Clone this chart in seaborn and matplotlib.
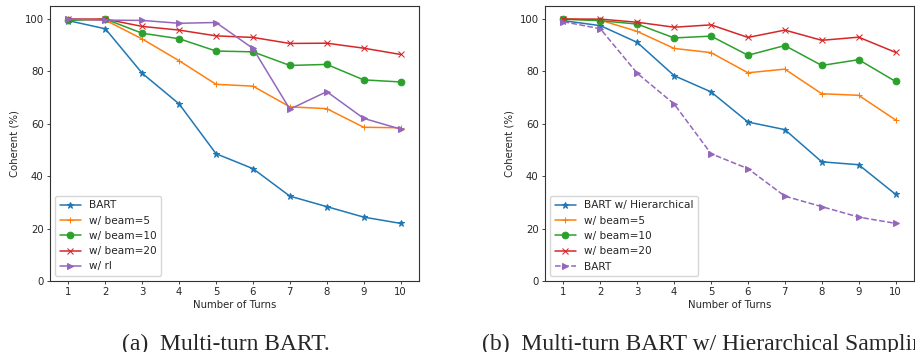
import numpy as np
import pandas as pd
import seaborn as sns
import matplotlib.pyplot as plt

# ---------------------------------------------------------
# DATA
# ---------------------------------------------------------
turns = [1, 2, 3, 4, 5, 6, 7, 8, 9, 10]

# (a) Multi-turn BART
a_bart = [99.4, 96.3, 79.3, 67.6, 48.6, 42.9, 32.4, 28.4, 24.4, 22.0]
a_beam5 = [100.0, 99.6, 92.4, 84.1, 75.1, 74.4, 66.5, 65.8, 58.7, 58.5]
a_beam10 = [99.5, 100.0, 94.6, 92.5, 87.8, 87.5, 82.3, 82.7, 76.8, 76.0]
a_beam20 = [100.0, 100.0, 97.2, 95.8, 93.6, 93.0, 90.7, 90.8, 88.9, 86.5]
a_rl = [100.0, 99.6, 99.5, 98.4, 98.7, 88.8, 65.6, 72.3, 62.1, 58.0]

# (b) Multi-turn BART w/ Hierarchical Sampling
b_hier = [99.4, 97.5, 91.1, 78.4, 72.2, 60.7, 57.8, 45.5, 44.4, 33.1]
b_beam5 = [100.0, 99.6, 95.3, 88.8, 87.2, 79.5, 80.9, 71.5, 70.9, 61.5]
b_beam10 = [100.0, 99.4, 98.1, 92.8, 93.5, 86.2, 89.9, 82.3, 84.5, 76.2]
b_beam20 = [100.0, 100.0, 98.8, 96.9, 97.8, 93.0, 95.8, 91.9, 93.1, 87.3]
b_bart = [99.0, 96.3, 79.3, 67.6, 48.6, 42.9, 32.4, 28.4, 24.4, 22.0]

labels_a = ['BART', 'w/ beam=5', 'w/ beam=10', 'w/ beam=20', 'w/ rl']
labels_b = ['BART w/ Hierarchical', 'w/ beam=5', 'w/ beam=10', 'w/ beam=20', 'BART']

# ---------------------------------------------------------
# STYLE
# ---------------------------------------------------------
sns.set_style('ticks')
plt.rcParams['font.family'] = ['DejaVu Sans']
plt.rcParams['font.size'] = 7.3

colors = sns.color_palette('tab10')
blue, orange, green, red, purple = colors[0], colors[1], colors[2], colors[3], colors[4]

fig = plt.figure(figsize=(9.15, 3.52), dpi=100)
ax1 = fig.add_axes([50 / 915, 71 / 352, 369 / 915, 275 / 352])
ax2 = fig.add_axes([545 / 915, 71 / 352, 369 / 915, 275 / 352])

series_a = [
    (a_bart, blue, '*', '-'),
    (a_beam5, orange, '+', '-'),
    (a_beam10, green, 'o', '-'),
    (a_beam20, red, 'x', '-'),
    (a_rl, purple, '>', '-'),
]
series_b = [
    (b_hier, blue, '*', '-'),
    (b_beam5, orange, '+', '-'),
    (b_beam10, green, 'o', '-'),
    (b_beam20, red, 'x', '-'),
    (b_bart, purple, '>', '--'),
]


def draw_panel(ax, series, labels):
    for (vals, c, m, ls), lab in zip(series, labels):
        df = pd.DataFrame({'turn': turns, 'coherent': vals})
        sns.lineplot(data=df, x='turn', y='coherent', ax=ax, color=c,
                     marker=m, markersize=4.8, linewidth=1.1, linestyle=ls,
                     markeredgecolor=c, label=lab)
    ax.set_xlim(0.5, 10.5)
    ax.set_ylim(0, 105)
    ax.set_xticks(turns)
    ax.set_yticks([0, 20, 40, 60, 80, 100])
    ax.tick_params(labelsize=7.3, length=2.5, width=0.6, pad=2)
    ax.set_xlabel('Number of Turns', fontsize=7.3, labelpad=2)
    ax.set_ylabel('Coherent (%)', fontsize=7.3, labelpad=4)
    for s in ax.spines.values():
        s.set_visible(True)
        s.set_linewidth(0.8)
        s.set_color('#333333')
    ax.legend(loc='lower left', fontsize=7.6, handlelength=2.0,
              borderpad=0.4, labelspacing=0.5, framealpha=0.8)


draw_panel(ax1, series_a, labels_a)
draw_panel(ax2, series_b, labels_b)

# captions (clipped on the right, as in the source)
fig.text(122 / 915, 8 / 352, '(a)  Multi-turn BART.', family='Liberation Serif',
         fontsize=17, ha='left', va='center')
fig.text(482 / 915, 8 / 352, '(b)  Multi-turn BART w/ Hierarchical Sampling.',
         family='Liberation Serif', fontsize=17, ha='left', va='center')

plt.savefig('out.png', dpi=100)
